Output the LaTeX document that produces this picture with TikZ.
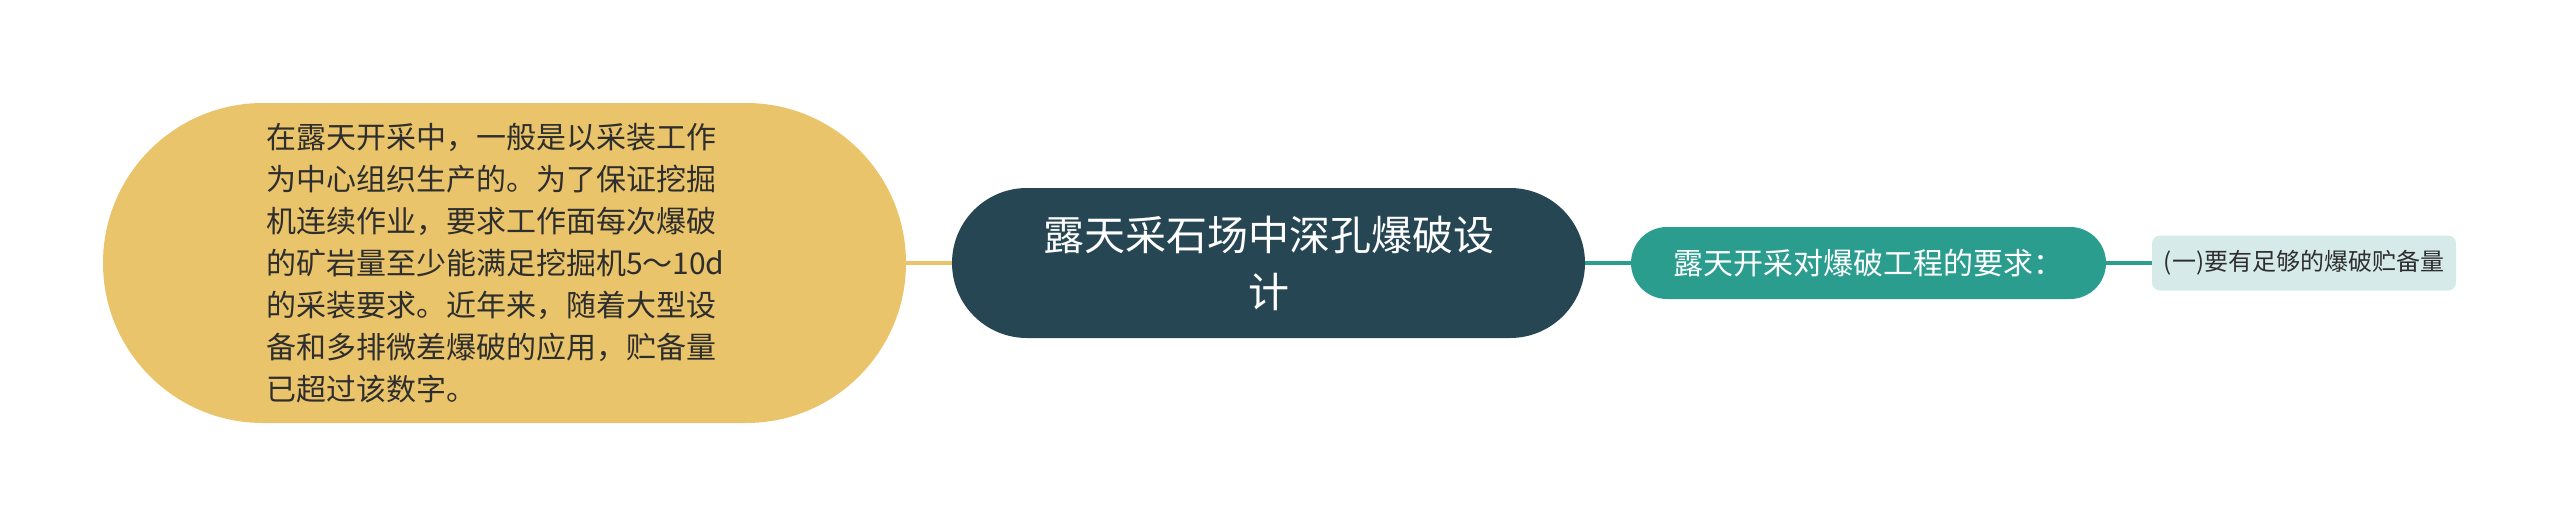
\documentclass[tikz,border=0pt]{standalone}
\usepackage{fontspec}
\newfontfamily\cjk{Noto Sans CJK SC}
\definecolor{cyellow}{HTML}{E9C46A}
\definecolor{cdark}{HTML}{264653}
\definecolor{cteal}{HTML}{2A9D8F}
\definecolor{clight}{HTML}{D6EBE9}
\definecolor{ctext}{HTML}{2E2E2E}
\newcommand{\ylline}[1]{\hbox{#1}}
\tikzset{
  mmnode/.style={inner sep=0pt, outer sep=0pt, font=\cjk},
  yellownode/.style={mmnode, fill=cyellow, minimum width=803pt, minimum height=320pt, rounded corners=160pt, text=ctext},
  rootnode/.style={mmnode, fill=cdark, minimum width=633pt, minimum height=150pt, rounded corners=75pt, text=white},
  tealnode/.style={mmnode, fill=cteal, minimum width=475pt, minimum height=72pt, rounded corners=36pt, text=white},
  leafnode/.style={mmnode, fill=clight, minimum width=304pt, minimum height=55pt, rounded corners=8pt, text=ctext},
  yline/.style={draw=cyellow, line width=3.5pt},
  tline/.style={draw=cteal, line width=3.5pt}
}
\begin{document}
\begin{tikzpicture}[x=1pt,y=-1pt]
\useasboundingbox[fill=white] (0,0) rectangle (2560,527);
\node[yellownode] (left) at (504.5,263) {\hbox to 477pt{\vbox{\fontsize{30}{42}\selectfont\baselineskip=42pt
\ylline{在露天开采中，一般是以采装工作}
\ylline{为中心组织生产的。为了保证挖掘}
\ylline{机连续作业，要求工作面每次爆破}
\ylline{的矿岩量至少能满足挖掘机5～10d}
\ylline{的采装要求。近年来，随着大型设}
\ylline{备和多排微差爆破的应用，贮备量}
\ylline{已超过该数字。}}\hss}};
\node[rootnode, align=center, font=\cjk\fontsize{41}{57}\selectfont] (root) at (1268.5,263) {露天采石场中深孔爆破设\\计};
\node[tealnode, font=\cjk\fontsize{30}{36}\selectfont] (req) at (1868.5,263) {露天开采对爆破工程的要求：};
\node[leafnode, font=\cjk\fontsize{24}{30}\selectfont] (leaf) at (2304,263) {(一)要有足够的爆破贮备量};
\draw[yline] (left.east) -- (root.west);
\draw[tline] (root.east) -- (req.west);
\draw[tline] (req.east) -- (leaf.west);
\end{tikzpicture}
\end{document}
